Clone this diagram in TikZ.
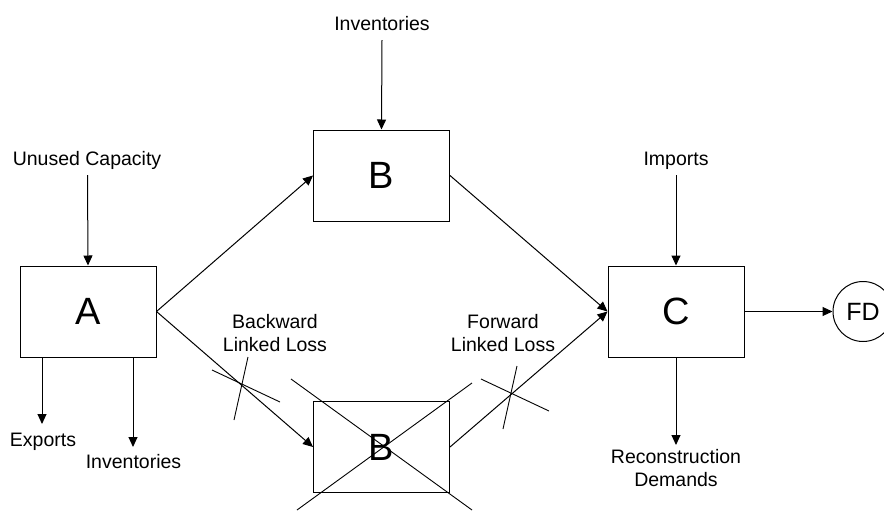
\documentclass[tikz,border=0pt]{standalone}
\usepackage{fontspec}
\setmainfont{Liberation Sans}
\usetikzlibrary{arrows.meta}
\begin{document}
\begin{tikzpicture}[x=1pt,y=-1pt,
  lbl/.style={font=\fontsize{19.5}{22.5}\selectfont, inner sep=0pt, anchor=base, align=center},
  sector/.style={draw, line width=1pt, minimum width=136pt, minimum height=91pt,
                 inner sep=0pt, font=\fontsize{38}{40}\selectfont},
  arr/.style={line width=1pt, -{Triangle[length=10pt,width=9pt]}},
  cut/.style={line width=0.9pt}]
\useasboundingbox (0,0) rectangle (884,512);
\clip (0,0) rectangle (884,512);
\fill[white] (0,0) rectangle (884,512);

% sectors
\node[sector] (A)  at (88,311.5)  {A};
\node[sector] (Bt) at (381.5,175.5) {B};
\node[sector] (Bb) at (381.5,447) {B};
\node[sector] (C)  at (676,311.5) {C};
\node[draw, circle, minimum size=60pt, inner sep=0pt, line width=1pt,
      font=\fontsize{25}{27}\selectfont] (FD) at (863,311.5) {FD};

% texts (two-line texts are placed by their last baseline)
\node[lbl] (uc)   at (87,165)    {Unused Capacity};
\node[lbl] (imp)  at (676,165)   {Imports};
\node[lbl] (invt) at (382,30)    {Inventories};
\node[lbl] (exp)  at (43,446)    {Exports};
\node[lbl] (invb) at (133.5,468) {Inventories};
\node[lbl] (rec)  at (676,486)   {Reconstruction\\Demands};
\node[lbl] (bll)  at (275,351)   {Backward\\Linked Loss};
\node[lbl] (fll)  at (503,351)   {Forward\\Linked Loss};

% free ends of the side flows
\coordinate (t1) at (382,40);
\coordinate (t2) at (87.5,175);
\coordinate (t3) at (676,175);
\coordinate (e1) at (42,424);
\coordinate (e2) at (133,447);
\coordinate (e3) at (676,445);

% side flows
\draw[arr] (t1) -- (Bt.north);
\draw[arr] (t2) -- (A.north);
\draw[arr] (t3) -- (C.north);
\draw[arr] (A.south -| e1) -- (e1);
\draw[arr] (A.south -| e2) -- (e2);
\draw[arr] (C.south) -- (e3);

% main flows
\draw[arr] (A.east) -- (Bt.west);
\draw[arr] (A.east) -- (Bb.west);
\draw[arr] (Bt.east) -- (C.west);
\draw[arr] (Bb.east) -- (C.west);
\draw[arr] (C.east) -- (FD.west);

% lost sector and broken links
\draw[cut] (291,379) -- (472,510);
\draw[cut] (297,510) -- (472,383);
\draw[cut] (212,370) -- (280,402);
\draw[cut] (248,357) -- (234,420);
\draw[cut] (481,379) -- (549,411);
\draw[cut] (517,366) -- (503,429);
\end{tikzpicture}
\end{document}
